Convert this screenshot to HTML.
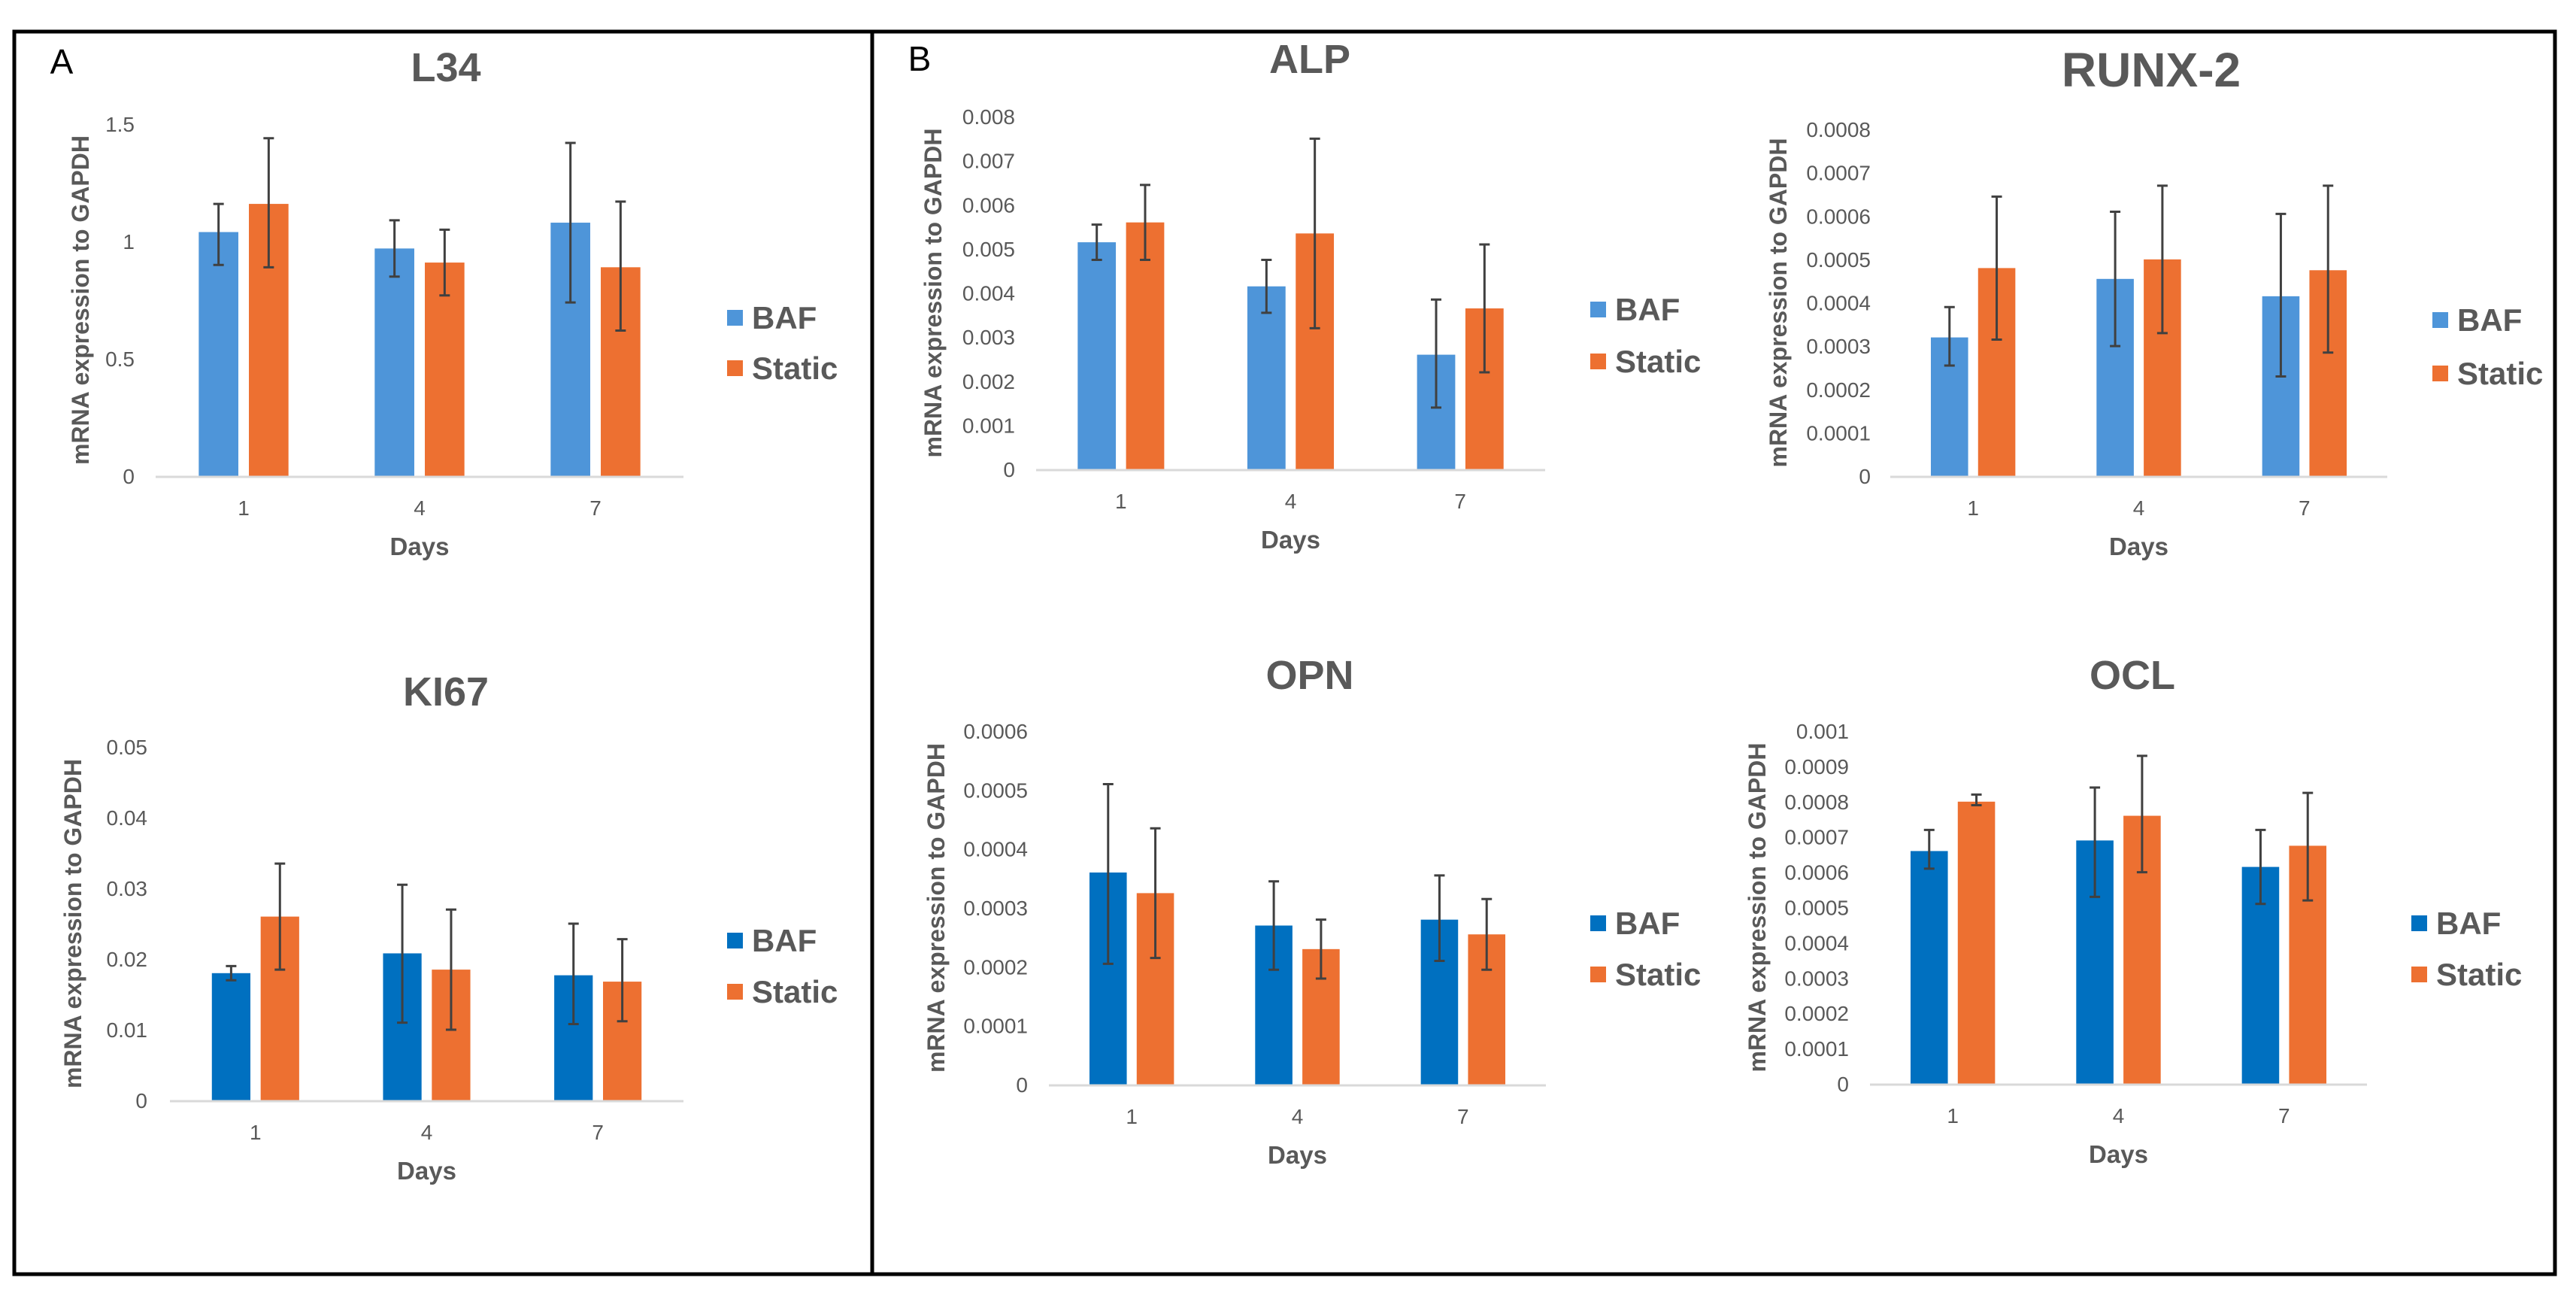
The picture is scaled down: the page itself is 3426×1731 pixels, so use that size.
<!DOCTYPE html>
<html><head><meta charset="utf-8"><style>
html,body{margin:0;padding:0;background:#fff}
svg{display:block;font-family:"Liberation Sans",sans-serif}
</style></head><body>
<svg id="fig" width="3426" height="1731" viewBox="0 0 3426 1731" xmlns="http://www.w3.org/2000/svg">
<rect x="0" y="0" width="3426" height="1731" fill="#fff"/>
<rect x="19" y="42" width="1141" height="1652" fill="none" stroke="#000" stroke-width="5"/>
<rect x="1160" y="42" width="2238" height="1652" fill="none" stroke="#000" stroke-width="5"/>
<text x="82" y="98" font-size="46" fill="#000" text-anchor="middle">A</text>
<text x="1223" y="94" font-size="46" fill="#000" text-anchor="middle">B</text>
<g id="charts"></g>
</svg>
<script>
const categories = ["1","4","7"];
// L34
const l34Baf = [1.04,0.97,1.08], l34BafLo=[0.90,0.85,0.74], l34BafHi=[1.16,1.09,1.42];
const l34Sta = [1.16,0.91,0.89], l34StaLo=[0.89,0.77,0.62], l34StaHi=[1.44,1.05,1.17];
const l34Ticks = ["0","0.5","1","1.5"];
// Ki67
const kiBaf=[0.018,0.0208,0.0177], kiBafLo=[0.017,0.011,0.0108], kiBafHi=[0.019,0.0305,0.025];
const kiSta=[0.026,0.0185,0.0168], kiStaLo=[0.0185,0.010,0.0112], kiStaHi=[0.0335,0.027,0.0228];
const kiTicks=["0","0.01","0.02","0.03","0.04","0.05"];
// ALP
const alpBaf=[0.00515,0.00415,0.0026], alpBafLo=[0.00475,0.00355,0.0014], alpBafHi=[0.00555,0.00475,0.00385];
const alpSta=[0.0056,0.00535,0.00365], alpStaLo=[0.00475,0.0032,0.0022], alpStaHi=[0.00645,0.0075,0.0051];
const alpTicks=["0","0.001","0.002","0.003","0.004","0.005","0.006","0.007","0.008"];
// RUNX-2
const ruBaf=[0.00032,0.000455,0.000415], ruBafLo=[0.000255,0.0003,0.00023], ruBafHi=[0.00039,0.00061,0.000605];
const ruSta=[0.00048,0.0005,0.000475], ruStaLo=[0.000315,0.00033,0.000285], ruStaHi=[0.000645,0.00067,0.00067];
const ruTicks=["0","0.0001","0.0002","0.0003","0.0004","0.0005","0.0006","0.0007","0.0008"];
// OPN
const opBaf=[0.00036,0.00027,0.00028], opBafLo=[0.000205,0.000195,0.00021], opBafHi=[0.00051,0.000345,0.000355];
const opSta=[0.000325,0.00023,0.000255], opStaLo=[0.000215,0.00018,0.000195], opStaHi=[0.000435,0.00028,0.000315];
const opTicks=["0","0.0001","0.0002","0.0003","0.0004","0.0005","0.0006"];
// OCL
const ocBaf=[0.00066,0.00069,0.000615], ocBafLo=[0.00061,0.00053,0.00051], ocBafHi=[0.00072,0.00084,0.00072];
const ocSta=[0.0008,0.00076,0.000675], ocStaLo=[0.00079,0.0006,0.00052], ocStaHi=[0.00082,0.00093,0.000825];
const ocTicks=["0","0.0001","0.0002","0.0003","0.0004","0.0005","0.0006","0.0007","0.0008","0.0009","0.001"];

const NS="http://www.w3.org/2000/svg";
const root=document.getElementById('charts');
function mk(tag,attrs,parent){const e=document.createElementNS(NS,tag);for(const k in attrs)e.setAttribute(k,attrs[k]);parent.appendChild(e);return e;}

function chart(c){
  const g=mk('g',{},root);
  
  
  const ticks=c.ticks, tmax=parseFloat(ticks[ticks.length-1]);
  const y=v=>c.y0-(v/tmax)*(c.y0-c.yTop);
  const cw=(c.x1-c.x0)/categories.length;
  const bw=cw*0.225, gap=cw*0.03;
  const t=mk('text',{x:c.tx,y:c.ty,'font-size':c.tfs||54,'font-weight':'bold',fill:'#595959','text-anchor':'middle'},g);
  t.textContent=c.title;
  
  
  ticks.forEach(tk=>{
    const tt=mk('text',{x:c.tickX,y:y(parseFloat(tk))+10,'font-size':28,fill:'#595959','text-anchor':'end'},g);
    tt.textContent=tk;
    
    
  });
  const yt=mk('text',{x:0,y:0,'font-size':32,'font-weight':'bold',fill:'#595959','text-anchor':'middle',transform:`translate(${c.ytX},${(c.y0+c.yTop)/2}) rotate(-90)`},g);
  yt.textContent='mRNA  expression to GAPDH';
  yt.setAttribute('xml:space','preserve');
  
  
  const series=[{v:c.baf,lo:c.bafLo,hi:c.bafHi,col:c.bafCol,off:-gap-bw,n:'baf'},{v:c.sta,lo:c.staLo,hi:c.staHi,col:'#ED7031',off:gap,n:'static'}];
  categories.forEach((cat,i)=>{
    const cx=c.x0+cw*(i+0.5);
    series.forEach(s=>{
      const b=mk('rect',{x:cx+s.off,y:y(s.v[i]),width:bw,height:c.y0-y(s.v[i]),fill:s.col},g);
      
      
    });
    series.forEach(s=>{
      const ex=cx+s.off+bw/2;
      const e=mk('path',{d:`M${ex},${y(s.lo[i])}V${y(s.hi[i])}M${ex-7},${y(s.lo[i])}H${ex+7}M${ex-7},${y(s.hi[i])}H${ex+7}`,stroke:'#404040','stroke-width':3,fill:'none'},g);
      
      
    });
    const xl=mk('text',{x:cx,y:c.y0+52,'font-size':28,fill:'#595959','text-anchor':'middle'},g);
    xl.textContent=cat;
    
    
  });
  const ax=mk('line',{x1:c.x0,y1:c.y0+1,x2:c.x1,y2:c.y0+1,stroke:'#d9d9d9','stroke-width':3},g);
  
  
  const dt=mk('text',{x:(c.x0+c.x1)/2,y:c.y0+105,'font-size':33,'font-weight':'bold',fill:'#595959','text-anchor':'middle'},g);
  dt.textContent='Days';
  
  
  [['BAF',c.bafCol,c.lgY1],['Static','#ED7031',c.lgY2]].forEach(([lab,col,ly])=>{
    const lg=mk('g',{},g);
    
    
    mk('rect',{x:c.lgX,y:ly-10,width:21,height:21,fill:col},lg);
    const lt=mk('text',{x:c.lgX+33,y:ly+15,'font-size':42,'font-weight':'bold',fill:'#595959'},lg);
    lt.textContent=lab;
  });
}

const lb='#4E95D9', db='#0070C0';
chart({id:'l34',title:'L34',tx:593,ty:108,ticks:l34Ticks,y0:633,yTop:165,x0:207,x1:909,tickX:179,ytX:118,baf:l34Baf,bafLo:l34BafLo,bafHi:l34BafHi,sta:l34Sta,staLo:l34StaLo,staHi:l34StaHi,bafCol:lb,lgX:967,lgY1:422,lgY2:489});
chart({id:'ki67',title:'KI67',tx:593,ty:938,ticks:kiTicks,y0:1463,yTop:993,x0:226,x1:909,tickX:196,ytX:108,baf:kiBaf,bafLo:kiBafLo,bafHi:kiBafHi,sta:kiSta,staLo:kiStaLo,staHi:kiStaHi,bafCol:db,lgX:967,lgY1:1250,lgY2:1318});
chart({id:'alp',title:'ALP',tx:1742,ty:97,ticks:alpTicks,y0:624,yTop:155,x0:1378,x1:2055,tickX:1350,ytX:1252,baf:alpBaf,bafLo:alpBafLo,bafHi:alpBafHi,sta:alpSta,staLo:alpStaLo,staHi:alpStaHi,bafCol:lb,lgX:2115,lgY1:411,lgY2:480});
chart({id:'runx2',title:'RUNX-2',tx:2861,ty:115,tfs:64,ticks:ruTicks,y0:633,yTop:172,x0:2514,x1:3175,tickX:2488,ytX:2376,baf:ruBaf,bafLo:ruBafLo,bafHi:ruBafHi,sta:ruSta,staLo:ruStaLo,staHi:ruStaHi,bafCol:lb,lgX:3235,lgY1:425,lgY2:496});
chart({id:'opn',title:'OPN',tx:1742,ty:916,ticks:opTicks,y0:1442,yTop:972,x0:1395,x1:2056,tickX:1367,ytX:1256,baf:opBaf,bafLo:opBafLo,bafHi:opBafHi,sta:opSta,staLo:opStaLo,staHi:opStaHi,bafCol:db,lgX:2115,lgY1:1227,lgY2:1295});
chart({id:'ocl',title:'OCL',tx:2836,ty:916,ticks:ocTicks,y0:1441,yTop:972,x0:2487,x1:3148,tickX:2459,ytX:2348,baf:ocBaf,bafLo:ocBafLo,bafHi:ocBafHi,sta:ocSta,staLo:ocStaLo,staHi:ocStaHi,bafCol:db,lgX:3207,lgY1:1227,lgY2:1295});
</script>
</body></html>
